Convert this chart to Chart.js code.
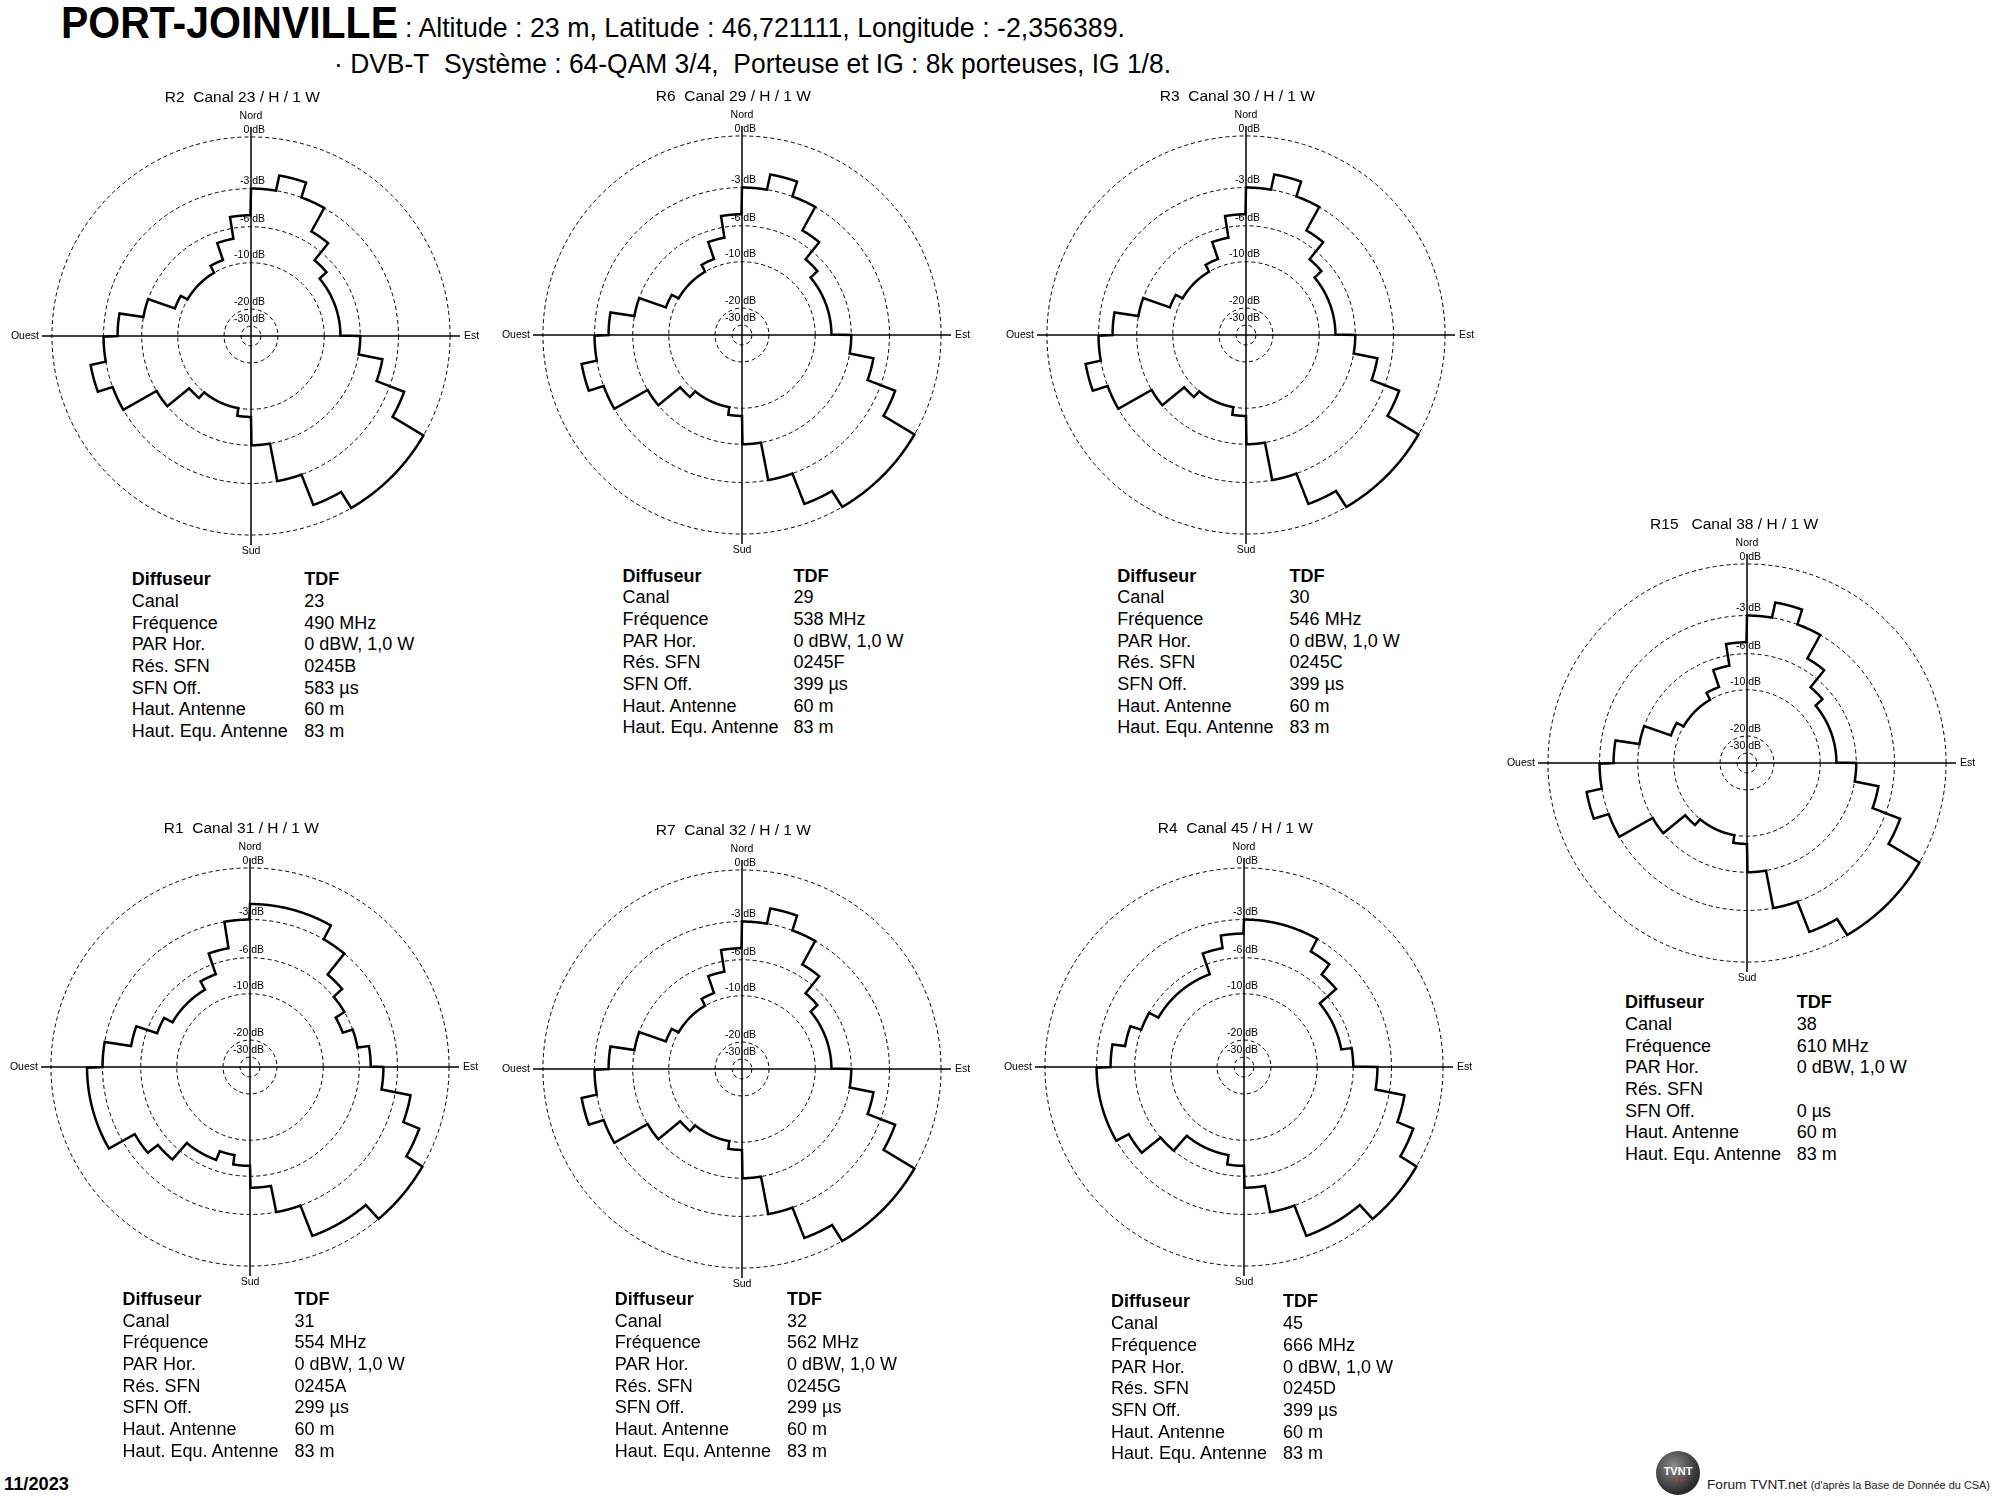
<!DOCTYPE html>
<html lang="fr">
<head>
<meta charset="utf-8">
<title>PORT-JOINVILLE</title>
<script src="https://cdn.jsdelivr.net/npm/chart.js@4.4.0/dist/chart.umd.min.js"></script>
<style>
  html, body { margin: 0; padding: 0; background: #fff; overflow: hidden; }
  body { width: 2000px; height: 1500px; position: relative; color: #000;
         font-family: "Liberation Sans", Arial, sans-serif; }
  .abs { position: absolute; white-space: nowrap; line-height: 1; transform-origin: 0 50%; }
  .rose { position: absolute; }
  .info { position: absolute; font-size: 18px; line-height: 21.7px; }
  .info .row { position: relative; height: 21.7px; white-space: nowrap; }
  .info .val { position: absolute; top: 0; }
  .info .head { font-weight: bold; }
  .logo { position: absolute; left: 1656px; top: 1451px; width: 44px; height: 44px; border-radius: 50%;
          background: radial-gradient(circle at 40% 35%, #8a8a8a, #2a2a2a 70%); color: #fff;
          font: bold 11px "Liberation Sans", Arial, sans-serif; text-align: center; line-height: 40px; }
  .logo i { position: absolute; left: 0; right: 0; top: 25px; font-style: normal; color: #d22; font-size: 8px; line-height: 8px; }
</style>
</head>
<body>

<div class="abs" id="place" style="left:61px; top:0.5px; font-size:44.7px; font-weight:bold;">PORT-JOINVILLE</div>
<div class="abs" id="line1" style="left:405px; top:12.9px; font-size:28.5px;">: Altitude : 23 m, Latitude : 46,721111, Longitude : -2,356389.</div>
<div class="abs" id="line2" style="left:334px; top:48.6px; font-size:28.5px;">· DVB-T&nbsp; Système : 64-QAM 3/4,&nbsp; Porteuse et IG : 8k porteuses, IG 1/8.</div>

<div class="abs" id="date" style="left:4px; top:1474.8px; font-size:18px; font-weight:bold;">11/2023</div>
<div class="logo">TVNT<i>• •</i></div>
<div class="abs" id="forum" style="left:1707px; top:1478.9px; font-size:12.5px; color:#1a1a1a;">Forum TVNT.net <span style="font-size:10px">(d'après la Base de Donnée du CSA)</span></div>

<script>
// antenna patterns, attenuation in dB per 10 degree sector, from north clockwise
const sectorWidth = 10
const patternA = [-3, -2, -3, -5, -7, -8, -8, -8, -8, -6, -4, -2, 0, 0, 0, -1, -3, -6,
                  -9, -10, -10, -10, -9, -6, -3, -2, -3, -4, -6, -9, -10, -10, -10, -9, -7, -5]
const patternR1 = [-2, -2, -2, -3, -5, -6, -7, -6, -5, -4, -2, -1, 0, 0, -1, -1, -3, -5,
                   -7, -8, -7, -7, -5, -4, -2, -2, -2, -3, -5, -7, -8, -8, -8, -7, -5, -3]
const patternR4 = [-3, -3, -3, -4, -5, -7, -7, -7, -6, -4, -2, -1, 0, 0, -1, -1, -3, -5,
                   -7, -8, -8, -8, -6, -4, -3, -3, -3, -4, -5, -6, -7, -7, -7, -7, -5, -4]

// rings and compass
const ringDb = [-30, -20, -10, -6, -3, 0]
const compass = ['Nord', 'Est', 'Sud', 'Ouest']

// transmitters
const stations = ['R2', 'R6', 'R3', 'R15', 'R1', 'R7', 'R4']
const channels = [23, 29, 30, 38, 31, 32, 45]
const frequencies = [490, 538, 546, 610, 554, 562, 666]
const sfnRes = ['0245B', '0245F', '0245C', '', '0245A', '0245G', '0245D']
const sfnOff = [583, 399, 399, 0, 299, 299, 399]
const operator = 'TDF'
const parHor = '0 dBW, 1,0 W'
const antennaHeight = 60
const equivHeight = 83
const patterns = [patternA, patternA, patternA, patternA, patternR1, patternA, patternR4]

const rowLabels = ['Diffuseur', 'Canal', 'Fréquence', 'PAR Hor.', 'Rés. SFN', 'SFN Off.', 'Haut. Antenne', 'Haut. Equ. Antenne']

// layout: rose centres, info block (label x, first row y, value x)
const centres = [[251, 336], [742, 335], [1246, 335], [1747, 763], [250, 1067], [742, 1069], [1244, 1067]]
const infoPos = [[131.7, 580, 304.3], [622.5, 576.5, 793.4], [1117.3, 576.5, 1289.6], [1625, 1003, 1796.7],
                 [122.4, 1299.7, 294.6], [614.8, 1299.7, 787], [1111, 1302.3, 1283]]

const STEP = 0.25
const N = 360 / STEP
const font = '"Liberation Sans", Arial, sans-serif'

const toRel = db => Math.exp(db / 10)
const ringValues = [0].concat(ringDb.map(toRel))
const angles = Array.from({ length: N }, (_, i) => i * STEP)

function expand(pattern) {
    return angles.map(a => toRel(pattern[Math.floor(a / sectorWidth)]))
}

const rosePlugin = {
    id: 'rose',
    afterDraw(chart) {
        const r = chart.scales.r
        const ctx = chart.ctx
        const R = r.getDistanceFromCenterForValue(1)
        ctx.save()
        ctx.fillStyle = '#000'
        ctx.font = '10.5px ' + font
        ctx.textBaseline = 'middle'
        ctx.textAlign = 'right'
        ringDb.forEach(db => {
            const d = r.getDistanceFromCenterForValue(toRel(db))
            ctx.fillText(db + ' dB', r.xCenter + 14, r.yCenter - d - 7.3)
        })
        const gaps = [20.6, 14, 16.4, 13]
        const aligns = ['center', 'left', 'center', 'right']
        const q = chart.data.labels.length / 4
        compass.forEach((name, k) => {
            const p = r.getPointPosition(k * q, R + gaps[k])
            ctx.textAlign = aligns[k]
            ctx.fillText(name, p.x, p.y)
        })
        ctx.restore()
    }
}

stations.forEach((st, i) => {
    const [cx, cy] = centres[i]
    const box = document.createElement('div')
    box.className = 'rose'
    box.style.left = (cx - 260) + 'px'
    box.style.top = (cy - 250) + 'px'
    const canvas = document.createElement('canvas')
    canvas.width = 520
    canvas.height = 475
    box.appendChild(canvas)
    document.body.appendChild(box)

    const gapAfter = st.length > 2 ? '   ' : '  '
    const title = st + gapAfter + 'Canal ' + channels[i] + ' / H / 1 W' + (st.length > 2 ? '      ' : '    ')

    new Chart(canvas, {
        type: 'radar',
        data: {
            labels: angles,
            datasets: [{
                data: expand(patterns[i]),
                borderColor: '#000',
                borderWidth: 2.5,
                borderJoinStyle: 'miter',
                pointRadius: 0,
                pointHoverRadius: 0,
                fill: false,
                tension: 0
            }]
        },
        options: {
            responsive: false,
            animation: false,
            devicePixelRatio: 1,
            events: [],
            layout: { padding: { left: 50, right: 50, top: 0, bottom: 15 } },
            plugins: {
                legend: { display: false },
                tooltip: { enabled: false },
                title: {
                    display: true,
                    text: title,
                    color: '#000',
                    font: { family: font, size: 15.5, weight: 'normal' },
                    padding: { top: 2, bottom: 20 }
                }
            },
            scales: {
                r: {
                    min: 0,
                    max: 1.05,
                    ticks: { display: false },
                    pointLabels: { display: false },
                    grid: { circular: true, color: '#000', lineWidth: 1 },
                    border: { dash: [4, 3] },
                    angleLines: {
                        display: true,
                        color: '#000',
                        lineWidth: c => (c.index % (N / 4) === 0 ? 1.5 : 0)
                    },
                    afterBuildTicks: s => { s.ticks = ringValues.map(v => ({ value: v })) }
                }
            }
        },
        plugins: [rosePlugin]
    })

    // info table
    const [lx, ly, vx] = infoPos[i]
    const values = [operator, String(channels[i]), frequencies[i] + ' MHz', parHor, sfnRes[i],
                    sfnOff[i] + ' µs', antennaHeight + ' m', equivHeight + ' m']
    const info = document.createElement('div')
    info.className = 'info'
    info.style.left = lx + 'px'
    info.style.top = (ly - 10.85) + 'px'
    rowLabels.forEach((lab, k) => {
        const row = document.createElement('div')
        row.className = 'row' + (k === 0 ? ' head' : '')
        const a = document.createElement('span')
        a.textContent = lab
        const b = document.createElement('span')
        b.className = 'val'
        b.style.left = (vx - lx) + 'px'
        b.textContent = values[k]
        row.appendChild(a)
        row.appendChild(b)
        info.appendChild(row)
    })
    document.body.appendChild(info)
})

// squeeze header / footer texts to the widths of the picture
function fitText(id, w) {
    const el = document.getElementById(id)
    const natural = el.getBoundingClientRect().width
    el.style.transform = 'scaleX(' + (w / natural) + ')'
}
fitText('place', 337)
fitText('line1', 720)
fitText('line2', 837)
fitText('date', 65)
fitText('forum', 283)
</script>
</body>
</html>
